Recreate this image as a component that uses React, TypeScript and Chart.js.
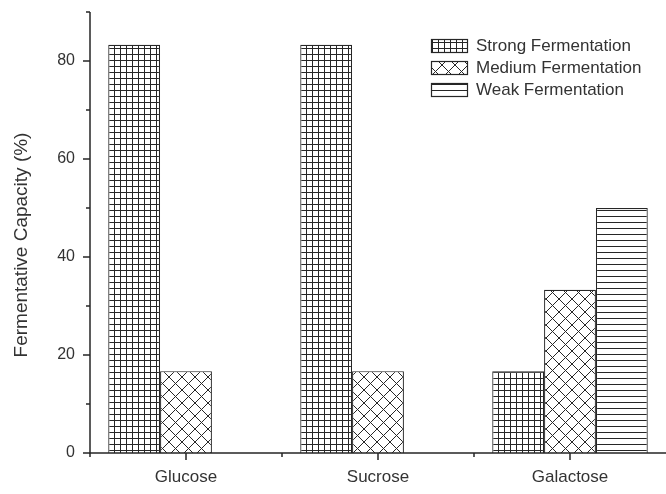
import React, { useEffect, useRef } from "react";
import { Chart, registerables } from "chart.js";

Chart.register(...registerables);

const categories = ["Glucose", "Sucrose", "Galactose"];
const seriesNames = ["Strong Fermentation", "Medium Fermentation", "Weak Fermentation"];
const strongValues = [83.3, 83.3, 16.7];
const mediumValues = [16.7, 16.7, 33.3];
const weakValues = [0, 0, 50];
const yMajorTicks = [0, 20, 40, 60, 80];
const yMinorTicks = [10, 30, 50, 70, 90];
const yTitle = "Fermentative Capacity (%)";

const LINE = "#262626";
const TEXT = "#333333";
const FONT = "'Liberation Sans', Arial, sans-serif";

function makePattern(kind: string): CanvasPattern | string {
  const c = document.createElement("canvas");
  const size = kind === "cross" ? 13 : 6;
  c.width = size;
  c.height = size;
  const g = c.getContext("2d");
  if (!g) return "#fff";
  g.fillStyle = "#ffffff";
  g.fillRect(0, 0, size, size);
  g.strokeStyle = LINE;
  g.lineWidth = 1;
  g.beginPath();
  if (kind === "grid") {
    g.moveTo(0.5, 0);
    g.lineTo(0.5, size);
    g.moveTo(0, 0.5);
    g.lineTo(size, 0.5);
  } else if (kind === "hlines") {
    g.moveTo(0, 0.5);
    g.lineTo(size, 0.5);
  } else {
    for (const o of [-size, 0, size]) {
      g.moveTo(o, 0);
      g.lineTo(o + size, size);
      g.moveTo(o + size, 0);
      g.lineTo(o, size);
    }
  }
  g.stroke();
  const p = g.createPattern(c, "repeat");
  return p || "#fff";
}

const axesPlugin = {
  id: "customAxes",
  afterDatasetsDraw(chart: any) {
    const { ctx, chartArea, scales } = chart;
    const x = scales.x;
    const y = scales.y;
    ctx.save();
    ctx.strokeStyle = LINE;
    ctx.lineWidth = 1.5;
    ctx.beginPath();
    ctx.moveTo(chartArea.left, chartArea.bottom);
    ctx.lineTo(chartArea.left, y.getPixelForValue(90));
    ctx.moveTo(chartArea.left - 0.75, chartArea.bottom);
    ctx.lineTo(chartArea.right, chartArea.bottom);
    ctx.stroke();

    ctx.beginPath();
    for (const v of yMajorTicks) {
      const py = y.getPixelForValue(v);
      ctx.moveTo(chartArea.left, py);
      ctx.lineTo(chartArea.left - 7, py);
    }
    for (const v of yMinorTicks) {
      const py = y.getPixelForValue(v);
      ctx.moveTo(chartArea.left, py);
      ctx.lineTo(chartArea.left - 4, py);
    }
    for (let i = 0; i < categories.length; i++) {
      const px = x.getPixelForValue(i);
      ctx.moveTo(px, chartArea.bottom);
      ctx.lineTo(px, chartArea.bottom + 7);
    }
    for (let i = 0; i < categories.length; i++) {
      const px = x.getPixelForValue(i - 0.5);
      ctx.moveTo(px, chartArea.bottom);
      ctx.lineTo(px, chartArea.bottom + 4);
    }
    ctx.stroke();

    ctx.fillStyle = TEXT;
    ctx.font = `19px ${FONT}`;
    ctx.textAlign = "center";
    ctx.textBaseline = "middle";
    ctx.translate(22, 245);
    ctx.rotate(-Math.PI / 2);
    ctx.fillText(yTitle, 0, 0);
    ctx.restore();

    ctx.save();
    const boxX = 431;
    const boxW = 36;
    const boxH = 13;
    const top0 = 39;
    const step = 22;
    ctx.font = `17px ${FONT}`;
    ctx.textAlign = "left";
    ctx.textBaseline = "middle";
    chart.data.datasets.forEach((ds: any, i: number) => {
      const by = top0 + i * step;
      ctx.fillStyle = ds.backgroundColor;
      ctx.fillRect(boxX, by, boxW, boxH);
      ctx.strokeStyle = LINE;
      ctx.lineWidth = 1.2;
      ctx.strokeRect(boxX + 0.5, by + 0.5, boxW, boxH);
      ctx.fillStyle = TEXT;
      ctx.fillText(ds.label, 476, by + boxH / 2 + 1);
    });
    ctx.restore();
  },
};

export default function App() {
  const ref = useRef<HTMLCanvasElement | null>(null);
  useEffect(() => {
    if (!ref.current) return;
    const patterns = [makePattern("grid"), makePattern("cross"), makePattern("hlines")];
    const values = [strongValues, mediumValues, weakValues];
    const chart = new Chart(ref.current, {
      type: "bar",
      data: {
        labels: categories,
        datasets: seriesNames.map((name, i) => ({
          label: name,
          data: values[i],
          backgroundColor: patterns[i] as any,
          borderColor: LINE,
          borderWidth: 1.2,
          categoryPercentage: 0.81,
          barPercentage: 1,
        })),
      },
      options: {
        animation: false,
        responsive: true,
        maintainAspectRatio: false,
        layout: { padding: { top: 12, right: 0, left: 0, bottom: 0 } },
        plugins: {
          legend: { display: false },
          tooltip: { enabled: false },
        },
        scales: {
          x: {
            offset: true,
            grid: { display: false, drawTicks: false },
            border: { display: false },
            ticks: {
              color: TEXT,
              font: { family: FONT, size: 17 },
              padding: 14,
              maxRotation: 0,
            },
            afterFit: (s: any) => {
              s.height = 41;
              s.paddingLeft = 0;
              s.paddingRight = 0;
            },
          },
          y: {
            min: 0,
            max: 90,
            grid: { display: false, drawTicks: false },
            border: { display: false },
            afterBuildTicks: (s: any) => {
              s.ticks = yMajorTicks.map((v) => ({ value: v }));
            },
            ticks: {
              color: TEXT,
              font: { family: FONT, size: 16 },
              padding: 15,
            },
            afterFit: (s: any) => {
              s.width = 90;
              s.paddingTop = 0;
              s.paddingBottom = 0;
            },
          },
        },
      },
      plugins: [axesPlugin],
    });
    return () => chart.destroy();
  }, []);
  return (
    <div style={{ position: "absolute", left: 0, top: 0, width: 666, height: 494 }}>
      <canvas ref={ref} />
    </div>
  );
}
